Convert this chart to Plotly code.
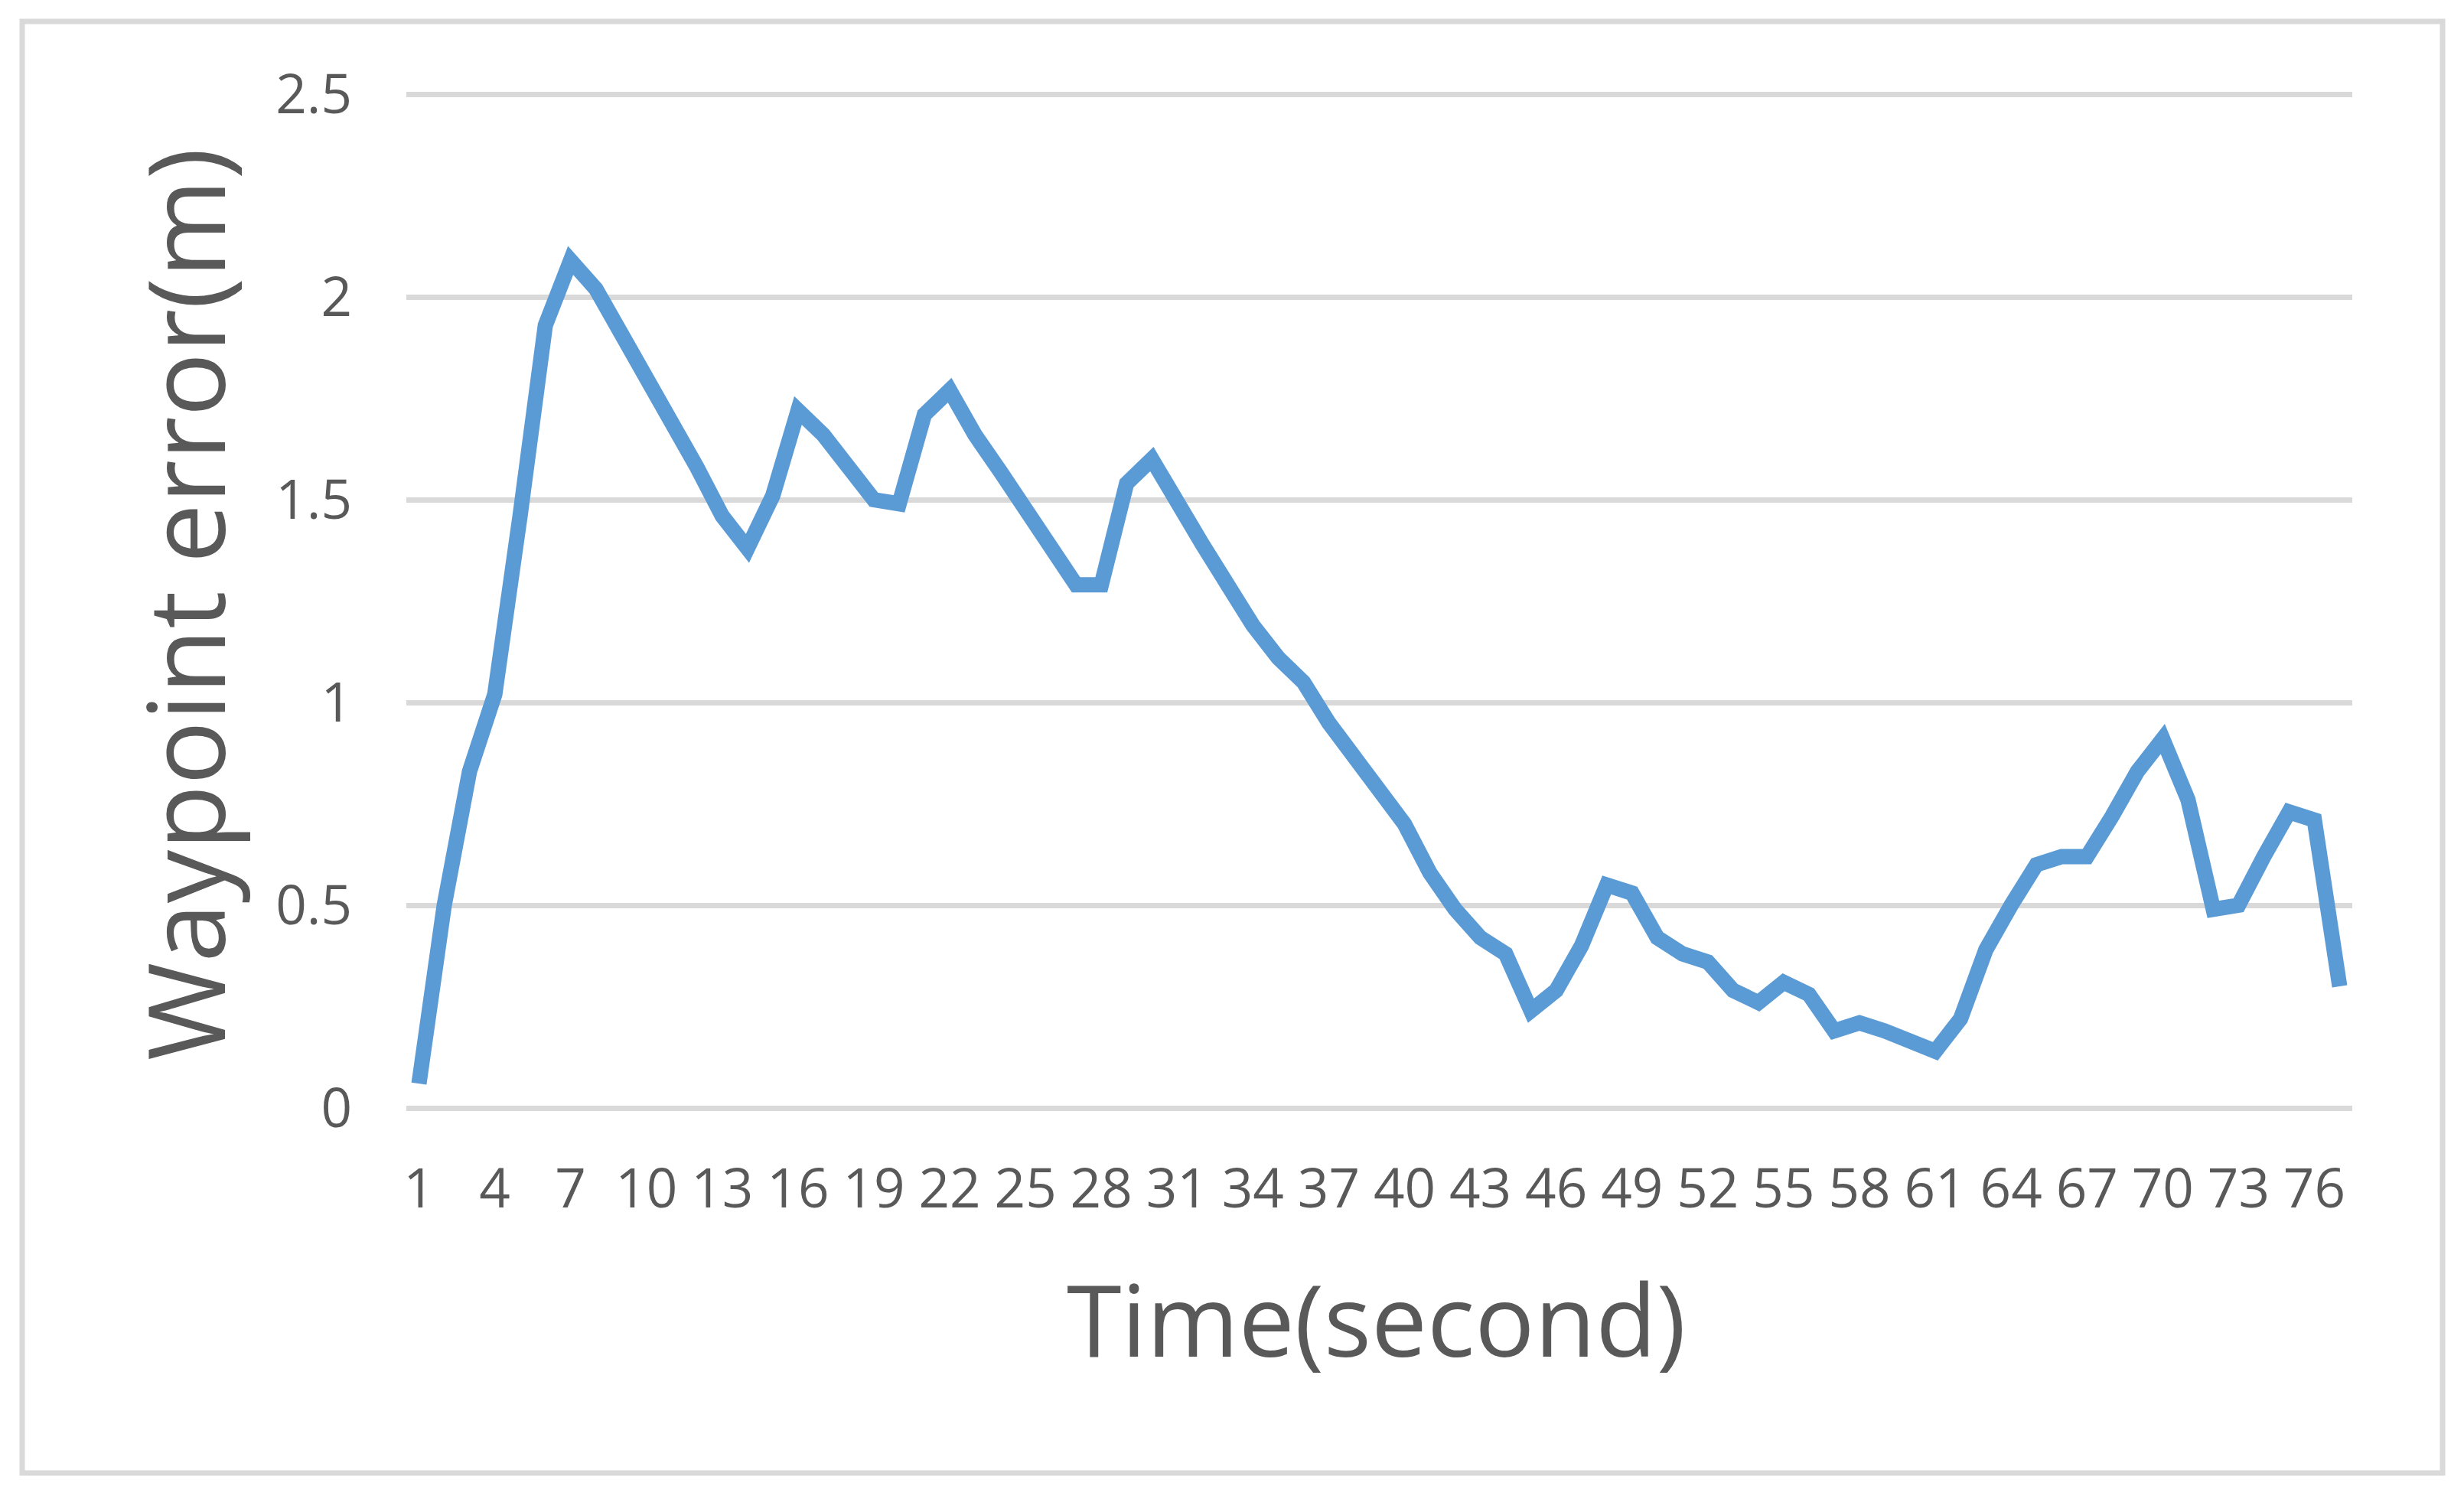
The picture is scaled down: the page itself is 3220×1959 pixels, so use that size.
import plotly.graph_objects as go

# seconds 1..77 and the waypoint error
time_s = list(range(1, 78))
waypoint_error = [
    0.06, 0.50, 0.83, 1.02, 1.46, 1.93, 2.09, 2.02, 1.91, 1.80,
    1.70, 1.58, 1.46, 1.38, 1.51, 1.72, 1.66, 1.58, 1.50, 1.49,
    1.71, 1.77, 1.66, 1.57, 1.48, 1.38, 1.29, 1.29, 1.54, 1.60,
    1.49, 1.39, 1.29, 1.19, 1.11, 1.05, 0.95, 0.87, 0.78, 0.70,
    0.58, 0.49, 0.42, 0.38, 0.24, 0.29, 0.40, 0.55, 0.53, 0.42,
    0.38, 0.36, 0.29, 0.26, 0.31, 0.28, 0.19, 0.21, 0.19, 0.16,
    0.14, 0.22, 0.39, 0.50, 0.60, 0.62, 0.62, 0.72, 0.83, 0.91,
    0.76, 0.49, 0.50, 0.62, 0.73, 0.71, 0.30,
]
x_ticks = list(range(1, 78, 3))
y_ticks = [0, 0.5, 1, 1.5, 2, 2.5]

# the page body adds an 8px margin, so lay out against the target minus that
OFF = 8
W, H = 3220, 1959
L, T = 531 - OFF, 121 - OFF
pw, ph = 2543, 1327
R, B = W - L - pw, H - T - ph

def px_x(v):
    return (v - OFF - L) / pw

def px_y(v):
    return (T + ph - (v - OFF)) / ph

TEXT = "#595959"
GRID = "#d9d9d9"
FONT = "Open Sans"

fig = go.Figure()
fig.add_trace(go.Scatter(
    x=time_s, y=waypoint_error, mode="lines",
    line=dict(color="#5B9BD5", width=20),
    showlegend=False, hoverinfo="skip",
))

fig.update_layout(
    width=W, height=H,
    margin=dict(l=L, r=R, t=T, b=B),
    paper_bgcolor="white", plot_bgcolor="white",
    font=dict(family=FONT, color=TEXT),
)
fig.update_xaxes(
    range=[0.5, 77.5], tickmode="array", tickvals=x_ticks,
    ticktext=[str(v) for v in x_ticks],
    showgrid=False, zeroline=False, showline=False, ticks="",
    tickfont=dict(size=71, color=TEXT, family=FONT),
    ticklabelstandoff=58,
)
fig.update_yaxes(
    range=[0, 2.504], tickmode="array", tickvals=y_ticks,
    ticktext=["0", "0.5", "1", "1.5", "2", "2.5"],
    showgrid=True, gridcolor=GRID, gridwidth=7,
    zeroline=True, zerolinecolor=GRID, zerolinewidth=7,
    showline=False, ticks="",
    tickfont=dict(size=71, color=TEXT, family=FONT),
    ticklabelstandoff=70,
)

# Excel-style chart frame
fig.add_shape(
    type="rect", xref="paper", yref="paper",
    x0=px_x(29), x1=px_x(3192), y0=px_y(1925), y1=px_y(28),
    line=dict(color=GRID, width=7), fillcolor="rgba(0,0,0,0)", layer="below",
)

fig.add_annotation(
    text="Waypoint error(m)", textangle=-90,
    xref="paper", yref="paper", x=px_x(240), y=px_y(790),
    xanchor="center", yanchor="middle", showarrow=False,
    font=dict(size=139, color=TEXT, family=FONT),
)
fig.add_annotation(
    text="Time(second)",
    xref="paper", yref="paper", x=px_x(1798), y=px_y(1722),
    xanchor="center", yanchor="middle", showarrow=False,
    font=dict(size=130, color=TEXT, family=FONT),
)

fig.write_html("out.html")
